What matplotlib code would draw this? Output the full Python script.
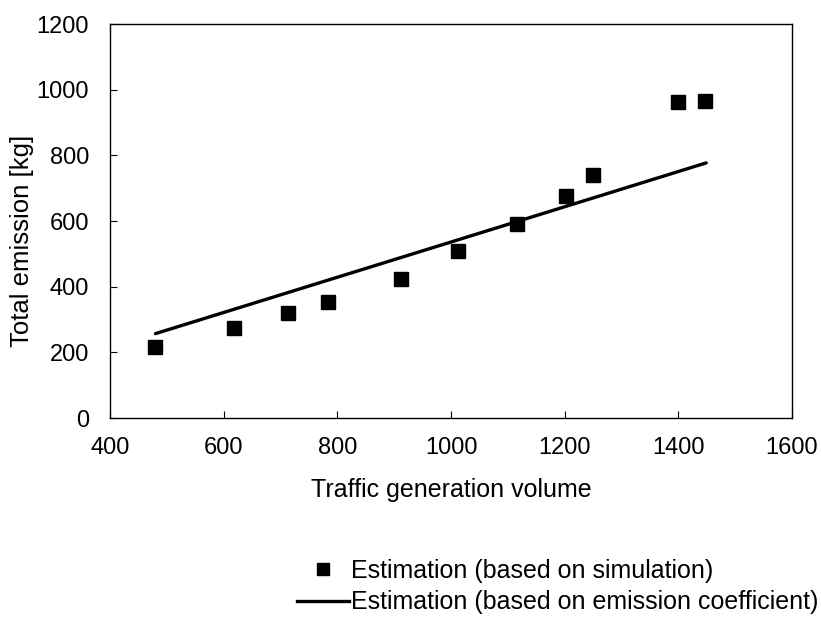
import matplotlib.pyplot as plt
from matplotlib.lines import Line2D

plt.rcParams['font.family'] = ['Liberation Sans', 'DejaVu Sans']

# simulated estimates
traffic = [480, 619, 713, 783, 912, 1013, 1116, 1203, 1249, 1399, 1447]
emission_sim = [216, 275, 321, 352, 422, 510, 591, 677, 741, 961, 964]

# emission-coefficient estimate (straight line)
coef_x = [480, 1449]
coef_y = [257, 777]

fig = plt.figure(figsize=(8.21, 6.17), dpi=100)
ax = fig.add_axes([0.134, 0.3225, 0.8307, 0.6386])

ax.plot(coef_x, coef_y, color='black', lw=2.4, solid_capstyle='round')
ax.plot(traffic, emission_sim, 's', color='black', ms=10, ls='none')

ax.set_xlim(400, 1600)
ax.set_ylim(0, 1200)
ax.set_xticks(range(400, 1601, 200))
ax.set_yticks(range(0, 1201, 200))
ax.tick_params(direction='in', length=5, labelsize=17)
ax.tick_params(axis='x', pad=14)
ax.tick_params(axis='y', pad=15)
for s in ax.spines.values():
    s.set_linewidth(1.0)

ax.set_xlabel('Traffic generation volume', fontsize=18, labelpad=13)
ax.set_ylabel('Total emission [kg]', fontsize=18.5)
ax.yaxis.set_label_coords(-0.112, 0.45)

handles = [
    Line2D([], [], marker='s', color='black', ls='none', ms=9),
    Line2D([], [], color='black', lw=2.4),
]
labels = ['Estimation (based on simulation)',
          'Estimation (based on emission coefficient)']
fig.legend(handles, labels, loc='lower right', bbox_to_anchor=(1.0, 0.0),
           frameon=False, fontsize=18, handlelength=2.1, handletextpad=0.08,
           labelspacing=0.3, borderpad=0.05, borderaxespad=0.05)

fig.savefig('out.png', dpi=100)
